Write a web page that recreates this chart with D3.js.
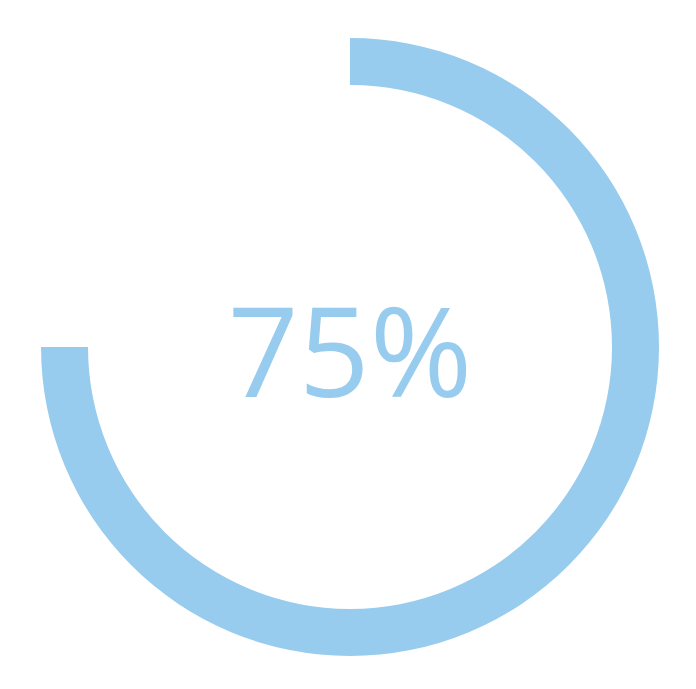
<!DOCTYPE html>
<html>
<head>
<meta charset="utf-8">
<script src="https://cdn.jsdelivr.net/npm/d3@7"></script>
<style>
  body { margin: 0; background: #fff; }
</style>
</head>
<body>
<svg width="696" height="689"></svg>
<script>
// progress value (percent) and its label
var progress = [75];
var labels = ["75%"];

var svg = d3.select("svg"),
    cx = 350,
    cy = 347,
    outerR = 309,
    innerR = 262;

var g = svg.append("g")
    .attr("transform", "translate(" + cx + "," + cy + ")");

var angle = d3.scaleLinear()
    .domain([0, 100])
    .range([0, 2 * Math.PI]);

var arc = d3.arc()
    .innerRadius(innerR)
    .outerRadius(outerR)
    .startAngle(0)
    .endAngle(function (d) { return angle(d); });

g.selectAll("path")
    .data(progress)
    .enter()
    .append("path")
    .attr("d", arc)
    .style("fill", "#97ccee");

g.selectAll("text")
    .data(labels)
    .enter()
    .append("text")
    .attr("x", 0)
    .attr("y", 50)
    .attr("text-anchor", "middle")
    .style("font-family", "'Open Sans'")
    .style("font-size", "124px")
    .style("fill", "#97ccee")
    .text(function (d) { return d; });
</script>
</body>
</html>
